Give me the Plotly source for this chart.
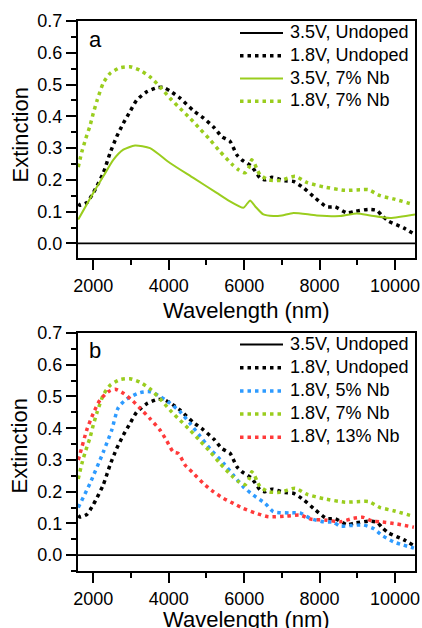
import plotly.graph_objects as go
from plotly.subplots import make_subplots

# ---------------- data ----------------
wl_undoped_18 = [1600, 1650, 1825, 2000, 2265, 2443, 2620, 2796, 2973, 3151, 3416, 3682, 3860,
                 4034, 4300, 4653, 4918, 5200, 5406, 5626, 5804, 5937, 6201, 6422, 6555, 6732,
                 7085, 7306, 7571, 7881, 8191, 8411, 8722, 8942, 9295, 9518, 9650, 9827, 10225, 10500]
ext_undoped_18 = [0.125, 0.12, 0.128, 0.159, 0.222, 0.284, 0.336, 0.378, 0.415, 0.451, 0.477, 0.49, 0.491,
                  0.48, 0.457, 0.418, 0.395, 0.365, 0.336, 0.321, 0.279, 0.263, 0.242, 0.206, 0.2, 0.208,
                  0.197, 0.195, 0.175, 0.143, 0.115, 0.115, 0.096, 0.101, 0.107, 0.104, 0.088, 0.07, 0.049, 0.03]

wl_undoped_35 = [1594, 10530]
ext_undoped_35 = [0.0, 0.0]

wl_nb7_35 = [1600, 2000, 2265, 2530, 2796, 3106, 3504, 4034, 4653, 5273, 5600, 5979, 6080, 6156,
             6289, 6509, 6774, 7000, 7306, 7925, 8545, 8987, 9340, 9870, 10530]
ext_nb7_35 = [0.075, 0.159, 0.211, 0.263, 0.295, 0.308, 0.3, 0.253, 0.206, 0.159, 0.134, 0.112, 0.125, 0.135,
              0.117, 0.091, 0.086, 0.088, 0.096, 0.088, 0.086, 0.094, 0.088, 0.08, 0.091]

wl_nb7_18 = [1600, 1700, 1800, 1912, 2000, 2100, 2265, 2443, 2708, 2973, 3238, 3504, 3769, 4034, 4300,
             4565, 4830, 5096, 5361, 5670, 5847, 6024, 6130, 6201, 6280, 6334, 6422, 6644, 6953, 7350,
             7660, 8103, 8677, 9075, 9295, 9606, 9959, 10500]
ext_nb7_18 = [0.24, 0.29, 0.33, 0.37, 0.41, 0.45, 0.505, 0.535, 0.553, 0.556, 0.545, 0.524, 0.493, 0.457, 0.425,
              0.394, 0.36, 0.326, 0.289, 0.25, 0.232, 0.222, 0.24, 0.263, 0.25, 0.235, 0.216, 0.2, 0.198, 0.211,
              0.192, 0.178, 0.167, 0.169, 0.169, 0.15, 0.14, 0.122]

wl_nb5_18 = [1600, 1912, 2265, 2488, 2663, 2886, 3239, 3504, 3769, 4034, 4300, 4565, 4830, 5096, 5450,
             5714, 5979, 6244, 6555, 6774, 7217, 7482, 7748, 8103, 8368, 8545, 8810, 9163, 9427, 9650, 9959, 10500]
ext_nb5_18 = [0.15, 0.226, 0.325, 0.394, 0.465, 0.492, 0.512, 0.515, 0.5, 0.479, 0.452, 0.415, 0.375, 0.335, 0.29,
              0.252, 0.215, 0.189, 0.163, 0.137, 0.133, 0.133, 0.116, 0.105, 0.104, 0.091, 0.093, 0.095, 0.084,
              0.063, 0.042, 0.022]

wl_nb13_18 = [1600, 1650, 1825, 2000, 2178, 2398, 2576, 2796, 3018, 3239, 3504, 3769, 3947, 4120, 4260,
              4432, 4653, 4918, 5183, 5450, 5714, 5979, 6289, 6643, 7129, 7482, 7792, 8191, 8545, 8899,
              9163, 9385, 9606, 9959, 10500]
ext_nb13_18 = [0.3, 0.32, 0.394, 0.447, 0.489, 0.515, 0.523, 0.51, 0.489, 0.463, 0.43, 0.394, 0.36, 0.325, 0.32,
               0.284, 0.258, 0.226, 0.2, 0.179, 0.163, 0.147, 0.133, 0.121, 0.123, 0.126, 0.113, 0.11, 0.105,
               0.116, 0.119, 0.108, 0.105, 0.1, 0.088]

x_range = [1594, 10530]
x_ticks = [2000, 4000, 6000, 8000, 10000]
y_ticks = [0.0, 0.1, 0.2, 0.3, 0.4, 0.5, 0.6, 0.7]
panel_labels = ["a", "b"]
x_title = "Wavelength (nm)"
y_title = "Extinction"

# ---------------- style ----------------
W, H = 422, 628
FONT = "Liberation Sans, Arial, sans-serif"
BLACK = "#000000"
GREEN = "#9ACD1E"
BLUE = "#2E9BFF"
RED = "#FF3A3A"
DOT = "3.5px,4px"
DOTW = 3.5

# plot areas in pixels (left, right, top, bottom)
AREAS = [(78, 415, 21, 258), (78, 415, 333, 571)]

fig = make_subplots(rows=2, cols=1, vertical_spacing=0.0)

series_a = [
    (wl_undoped_35, ext_undoped_35, "3.5V, Undoped", BLACK, "solid", 1.6),
    (wl_undoped_18, ext_undoped_18, "1.8V, Undoped", BLACK, DOT, DOTW),
    (wl_nb7_35, ext_nb7_35, "3.5V, 7% Nb", GREEN, "solid", 2.0),
    (wl_nb7_18, ext_nb7_18, "1.8V, 7% Nb", GREEN, DOT, DOTW),
]
series_b = [
    (wl_undoped_35, ext_undoped_35, "3.5V, Undoped", BLACK, "solid", 1.6),
    (wl_undoped_18, ext_undoped_18, "1.8V, Undoped", BLACK, DOT, DOTW),
    (wl_nb5_18, ext_nb5_18, "1.8V, 5% Nb", BLUE, DOT, DOTW),
    (wl_nb7_18, ext_nb7_18, "1.8V, 7% Nb", GREEN, DOT, DOTW),
    (wl_nb13_18, ext_nb13_18, "1.8V, 13% Nb", RED, DOT, DOTW),
]

for row, series in [(1, series_a), (2, series_b)]:
    for x, y, name, color, dash, width in series:
        fig.add_trace(go.Scatter(x=x, y=y, mode="lines", name=name, showlegend=False,
                                 line=dict(color=color, width=width, dash=dash,
                                           shape="spline", smoothing=0.6)),
                      row=row, col=1)

# manual legends (line sample + text), positioned in pixels
legend_rows = [
    (series_a, [33.0, 55.8, 78.6, 101.2]),
    (series_b, [344.5, 367.7, 390.9, 414.1, 437.3]),
]
for series, ys in legend_rows:
    for (x, y, name, color, dash, width), py in zip(series, ys):
        fig.add_shape(type="line", xref="paper", yref="paper",
                      x0=240 / W, x1=283 / W, y0=1 - py / H, y1=1 - py / H,
                      line=dict(color=color, width=(width if dash != "solid" else 2.0), dash=dash))
        fig.add_annotation(text=name, xref="paper", yref="paper", x=288 / W, y=1 - (py - 1) / H,
                           xanchor="left", yanchor="middle", showarrow=False,
                           font=dict(family=FONT, size=18, color=BLACK))

axis_common = dict(showline=True, linecolor=BLACK, linewidth=2, mirror=True,
                   ticks="outside", ticklen=10, tickwidth=2, tickcolor=BLACK,
                   showgrid=False, zeroline=False, automargin=False,
                   tickfont=dict(family=FONT, size=18, color=BLACK))

for r, yr in [(1, [-0.046, 0.7]), (2, [-0.05, 0.7])]:
    fig.update_xaxes(range=x_range, tickvals=x_ticks, ticktext=[str(v) for v in x_ticks],
                     ticklabeloverflow="allow",
                     minor=dict(dtick=1000, tick0=0, ticks="outside", ticklen=5, tickwidth=2, tickcolor=BLACK),
                     row=r, col=1, **axis_common)
    fig.update_yaxes(range=yr, tickvals=y_ticks, ticktext=["%.1f" % v for v in y_ticks],
                     minor=dict(dtick=0.05, tick0=0, ticks="outside", ticklen=5, tickwidth=2, tickcolor=BLACK),
                     row=r, col=1, **axis_common)

# axis titles as annotations (pixel positions of their centres)
for (cx, cy) in [(246.5, 310), (246.5, 619)]:
    fig.add_annotation(text=x_title, xref="paper", yref="paper", x=cx / W, y=1 - cy / H,
                       xanchor="center", yanchor="middle", showarrow=False,
                       font=dict(family=FONT, size=22, color=BLACK))
for (cx, cy) in [(19.5, 135), (19.5, 446)]:
    fig.add_annotation(text=y_title, xref="paper", yref="paper", x=cx / W, y=1 - cy / H,
                       xanchor="center", yanchor="middle", textangle=-90, showarrow=False,
                       font=dict(family=FONT, size=22, color=BLACK))

(l1, r1, t1, b1), (l2, r2, t2, b2) = AREAS
fig.update_layout(
    width=W, height=H,
    margin=dict(l=0, r=0, t=0, b=0, autoexpand=False),
    paper_bgcolor="white", plot_bgcolor="white",
    font=dict(family=FONT, color=BLACK),
    showlegend=False,
    xaxis=dict(domain=[l1 / W, r1 / W]), yaxis=dict(domain=[1 - b1 / H, 1 - t1 / H]),
    xaxis2=dict(domain=[l2 / W, r2 / W]), yaxis2=dict(domain=[1 - b2 / H, 1 - t2 / H]),
)

label_pos = [(87, 39), (87, 350)]
for lab, (px, py) in zip(panel_labels, label_pos):
    fig.add_annotation(text=lab, xref="paper", yref="paper", x=px / W, y=1 - py / H,
                       xanchor="left", yanchor="middle", showarrow=False,
                       font=dict(family=FONT, size=22, color=BLACK))

fig.write_html("out.html", config={"displayModeBar": False},
               post_script="document.body.style.margin='0';document.body.style.overflow='hidden';")
